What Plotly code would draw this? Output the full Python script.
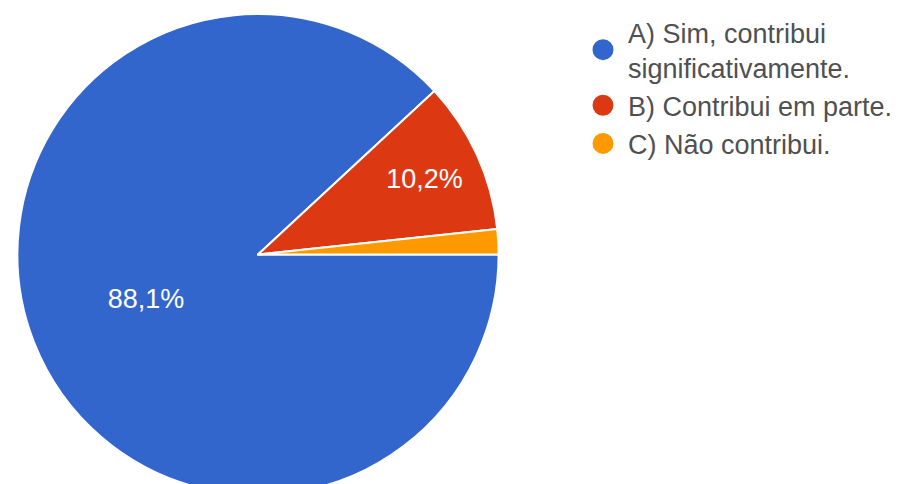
import plotly.graph_objects as go

labels = ["A) Sim, contribui<br>significativamente.", "B) Contribui em parte.", "C) Não contribui."]
values = [88.1, 10.2, 1.7]
colors = ["#3366cc", "#dc3912", "#ff9900"]
label_templates = ["%{percent:.1%}", "%{percent:.1%}", ""]

W, H = 902, 506
fig = go.Figure()
fig.add_trace(go.Pie(
    labels=labels, values=values, sort=False, direction="clockwise", rotation=90,
    marker=dict(colors=colors, line=dict(color="white", width=2)),
    texttemplate=label_templates, textposition="inside", insidetextorientation="horizontal",
    textfont=dict(color="white", size=27, family="Arial, Liberation Sans"),
    showlegend=False, hoverinfo="label+percent",
    domain=dict(x=[7 / W, 493 / W], y=[(H - 487) / H, (H - 1) / H]),
))
for lab, col in zip(labels, colors):
    fig.add_trace(go.Scatter(x=[None], y=[None], mode="markers", name=lab,
                             marker=dict(symbol="circle", size=16, color=col,
                                         line=dict(color=col, width=8))))

fig.update_layout(
    width=W, height=H, margin=dict(l=0, r=0, t=0, b=0),
    paper_bgcolor="white", plot_bgcolor="white", separators=",.",
    xaxis=dict(visible=False), yaxis=dict(visible=False),
    legend=dict(x=570 / W, y=1 + 5 / H, xanchor="left", yanchor="top",
                font=dict(size=27, color="#505050", family="Arial, Liberation Sans"),
                tracegroupgap=0, itemwidth=40),
)
fig.write_html("out.html")
